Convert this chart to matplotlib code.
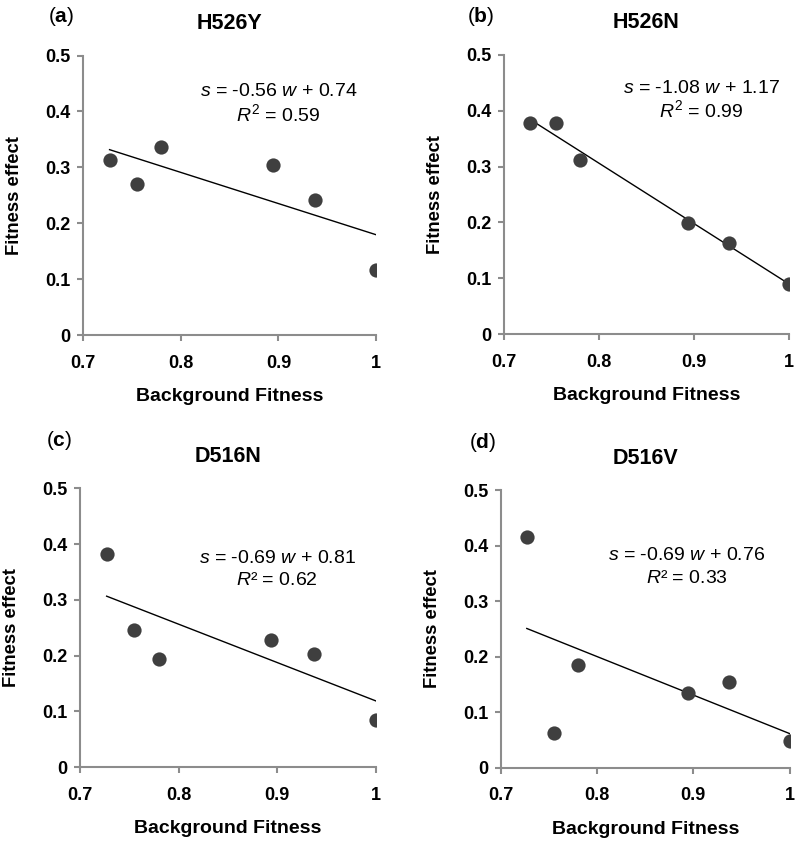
import numpy as np
import matplotlib
matplotlib.use("Agg")
import matplotlib.pyplot as plt

plt.rcParams['font.family'] = ['Liberation Sans', 'DejaVu Sans']
plt.rcParams['mathtext.fontset'] = 'custom'
plt.rcParams['mathtext.rm'] = 'Liberation Sans'
plt.rcParams['mathtext.it'] = 'Liberation Sans:italic'
plt.rcParams['mathtext.bf'] = 'Liberation Sans:bold'

# background fitness (same for all panels)
bg_fitness = [0.727, 0.755, 0.780, 0.894, 0.937, 1.0]

# fitness effects per mutation
h526y = [0.313, 0.270, 0.337, 0.305, 0.242, 0.116]
h526n = [0.378, 0.378, 0.311, 0.199, 0.164, 0.090]
d516n = [0.383, 0.245, 0.193, 0.228, 0.203, 0.084]
d516v = [0.415, 0.062, 0.186, 0.134, 0.154, 0.048]

titles = ['H526Y', 'H526N', 'D516N', 'D516V']
letters = ['a', 'b', 'c', 'd']
equations = [r'$\it{s}$ = -0.56 $\it{w}$ + 0.74', r'$\it{s}$ = -1.08 $\it{w}$ + 1.17',
             r'$\it{s}$ = -0.69 $\it{w}$ + 0.81', r'$\it{s}$ = -0.69 $\it{w}$ + 0.76']
r2_labels = [r'$\it{R}^{2}$ = 0.59', r'$\it{R}^{2}$ = 0.99',
             r'$\it{R}$² = 0.62', r'$\it{R}$² = 0.33']

series = [h526y, h526n, d516n, d516v]

# axes boxes [left, bottom, width, height] in figure fraction
boxes = [[0.104, 0.602, 0.366, 0.332],
         [0.630, 0.603, 0.356, 0.332],
         [0.100, 0.089, 0.370, 0.331],
         [0.626, 0.088, 0.361, 0.330]]
# annotation positions in data coords (x, eq y, R2 y)
ann = [(0.90, 0.435, 0.396), (0.908, 0.440, 0.401),
       (0.90, 0.375, 0.334), (0.893, 0.382, 0.341)]
# panel letter positions in figure pixels (x left, y from top)
letter_pos = [(48, 16), (467, 16), (46, 441), (469, 442)]

W, H = 800, 842
fig = plt.figure(figsize=(W / 100, H / 100), dpi=100)
spine_col = '#8c8c8c'

for i in range(4):
    ax = fig.add_axes(boxes[i])
    x = np.array(bg_fitness)
    y = np.array(series[i])
    ax.scatter(x, y, s=105, color='#3f3f3f', zorder=3, linewidths=0)
    # linear trendline
    k, c = np.polyfit(x, y, 1)
    xl = np.array([x.min(), x.max()])
    ax.plot(xl, k * xl + c, color='black', lw=1.0, zorder=2)

    ax.set_xlim(0.7, 1.0)
    ax.set_ylim(0, 0.5)
    ax.set_xticks([0.7, 0.8, 0.9, 1.0])
    ax.set_xticklabels(['0.7', '0.8', '0.9', '1'])
    ax.set_yticks([0, 0.1, 0.2, 0.3, 0.4, 0.5])
    ax.set_yticklabels(['0', '0.1', '0.2', '0.3', '0.4', '0.5'])
    for sp in ['top', 'right']:
        ax.spines[sp].set_visible(False)
    for sp in ['left', 'bottom']:
        ax.spines[sp].set_color(spine_col)
        ax.spines[sp].set_linewidth(1.5)
    ax.tick_params(axis='both', color=spine_col, width=1.5, length=4,
                   labelsize=13, direction='out')
    ax.tick_params(axis='x', pad=10)
    ax.tick_params(axis='y', pad=5)
    for lab in ax.get_xticklabels() + ax.get_yticklabels():
        lab.set_fontweight('bold')
    ax.set_xlabel('Background Fitness', fontsize=14, fontweight='bold', labelpad=12)
    ax.set_ylabel('Fitness effect', fontsize=13.3, fontweight='bold', labelpad=16)
    ax.set_title(titles[i], fontsize=15.5, fontweight='bold', pad=19)

    ex, ey, ry = ann[i]
    ax.text(ex, ey, equations[i], fontsize=14, ha='center', va='center')
    ax.text(ex, ry, r2_labels[i], fontsize=14, ha='center', va='center')

    # panel letter
    lx, ly = letter_pos[i]
    fig.text(lx / W, 1 - ly / H, r'($\bf{' + letters[i] + '}$)',
             fontsize=15, ha='left', va='center')

fig.savefig('out.png', dpi=100)
